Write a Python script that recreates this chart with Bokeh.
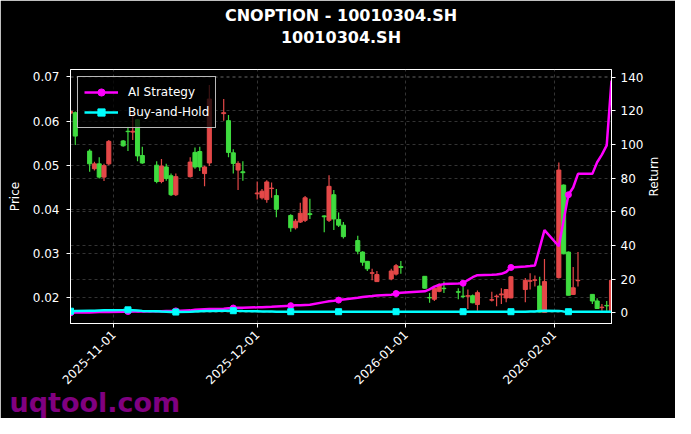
import math
import numpy as np
import pandas as pd
from bokeh.plotting import figure
from bokeh.models import (Range1d, LinearAxis, FixedTicker, DatetimeTickFormatter,
                          NumeralTickFormatter, Grid, Title, Legend, LegendItem,
                          ColumnDataSource)
from bokeh.embed import file_html
from bokeh.resources import INLINE

# ---------------- data ----------------
dates = [
    "2025-10-23", "2025-10-24", "2025-10-27", "2025-10-28", "2025-10-29", "2025-10-30", "2025-10-31",
    "2025-11-03", "2025-11-04", "2025-11-05", "2025-11-06", "2025-11-07",
    "2025-11-10", "2025-11-11", "2025-11-12", "2025-11-13", "2025-11-14",
    "2025-11-17", "2025-11-18", "2025-11-19", "2025-11-20", "2025-11-21",
    "2025-11-24", "2025-11-25", "2025-11-26", "2025-11-27", "2025-11-28",
    "2025-12-01", "2025-12-02", "2025-12-03", "2025-12-04", "2025-12-05",
    "2025-12-08", "2025-12-09", "2025-12-10", "2025-12-11", "2025-12-12",
    "2025-12-15", "2025-12-16", "2025-12-17", "2025-12-18", "2025-12-19",
    "2025-12-22", "2025-12-23", "2025-12-24", "2025-12-25", "2025-12-26",
    "2025-12-29", "2025-12-30", "2025-12-31",
    "2026-01-05", "2026-01-06", "2026-01-07", "2026-01-08", "2026-01-09",
    "2026-01-12", "2026-01-13", "2026-01-14", "2026-01-15", "2026-01-16",
    "2026-01-19", "2026-01-20", "2026-01-21", "2026-01-22", "2026-01-23",
    "2026-01-26", "2026-01-27", "2026-01-28", "2026-01-29", "2026-01-30",
    "2026-02-02", "2026-02-03", "2026-02-04", "2026-02-05", "2026-02-06",
    "2026-02-09", "2026-02-10", "2026-02-11", "2026-02-12", "2026-02-13",
]
open_ = [0.0622, 0.0566, 0.0503, 0.0503, 0.0473, 0.0499, 0.0554,
         0.0544, 0.0576, 0.0577, 0.0521, 0.0505,
         0.0463, 0.0498, 0.0470, 0.0433, 0.0474,
         0.0507, 0.0496, 0.0496, 0.0496, 0.0650,
         0.0619, 0.0529, 0.0504, 0.0504, 0.0483,
         0.0437, 0.0441, 0.0462, 0.0448, 0.0400,
         0.0358, 0.0373, 0.0391, 0.0426, 0.0388,
         0.0383, 0.0452, 0.0378, 0.0364, 0.0338,
         0.0305, 0.0280, 0.0265, 0.0256, 0.0252,
         0.0260, 0.0272, 0.0268,
         0.0221, 0.0199, 0.0221, 0.0229, 0.0220,
         0.0212, 0.0202, 0.0204, 0.0188, 0.0211,
         0.0195, 0.0203, 0.0208, 0.0218, 0.0247,
         0.0239, 0.0238, 0.0240, 0.0167, 0.0236,
         0.0489, 0.0299, 0.0205, 0.0222, 0.0239,
         0.0192, 0.0175, 0.0178, 0.0181, 0.0239]
high = [0.0625, 0.0622, 0.0536, 0.0508, 0.0518, 0.0503, 0.0557,
        0.0557, 0.0587, 0.0619, 0.0604, 0.0542,
        0.0509, 0.0514, 0.0503, 0.0481, 0.0481,
        0.0518, 0.0540, 0.0542, 0.0499, 0.0682,
        0.0650, 0.0614, 0.0536, 0.0509, 0.0509,
        0.0463, 0.0446, 0.0466, 0.0461, 0.0446,
        0.0389, 0.0378, 0.0415, 0.0430, 0.0424,
        0.0386, 0.0477, 0.0444, 0.0393, 0.0371,
        0.0340, 0.0305, 0.0283, 0.0265, 0.0260,
        0.0265, 0.0276, 0.0283,
        0.0249, 0.0210, 0.0225, 0.0232, 0.0236,
        0.0221, 0.0226, 0.0218, 0.0207, 0.0216,
        0.0213, 0.0207, 0.0221, 0.0218, 0.0248,
        0.0244, 0.0255, 0.0250, 0.0247, 0.0287,
        0.0506, 0.0456, 0.0304, 0.0269, 0.0303,
        0.0207, 0.0198, 0.0185, 0.0192, 0.0239]
low = [0.0612, 0.0546, 0.0485, 0.0488, 0.0470, 0.0464, 0.0500,
       0.0542, 0.0532, 0.0557, 0.0509, 0.0503,
       0.0459, 0.0459, 0.0465, 0.0430, 0.0430,
       0.0472, 0.0492, 0.0487, 0.0452, 0.0498,
       0.0601, 0.0518, 0.0481, 0.0444, 0.0465,
       0.0422, 0.0422, 0.0415, 0.0426, 0.0382,
       0.0349, 0.0354, 0.0369, 0.0371, 0.0378,
       0.0348, 0.0371, 0.0353, 0.0360, 0.0334,
       0.0298, 0.0272, 0.0260, 0.0239, 0.0236,
       0.0239, 0.0250, 0.0254,
       0.0220, 0.0188, 0.0192, 0.0212, 0.0210,
       0.0196, 0.0198, 0.0174, 0.0187, 0.0170,
       0.0191, 0.0180, 0.0185, 0.0189, 0.0198,
       0.0189, 0.0218, 0.0225, 0.0166, 0.0165,
       0.0243, 0.0298, 0.0205, 0.0206, 0.0225,
       0.0185, 0.0174, 0.0170, 0.0170, 0.0170]
close = [0.0618, 0.0619, 0.0532, 0.0492, 0.0503, 0.0473, 0.0503,
         0.0555, 0.0577, 0.0575, 0.0603, 0.0522,
         0.0500, 0.0463, 0.0496, 0.0476, 0.0433,
         0.0474, 0.0529, 0.0531, 0.0481, 0.0505,
         0.0617, 0.0601, 0.0528, 0.0489, 0.0485,
         0.0435, 0.0426, 0.0422, 0.0447, 0.0431,
         0.0386, 0.0358, 0.0371, 0.0375, 0.0390,
         0.0385, 0.0375, 0.0433, 0.0377, 0.0364,
         0.0329, 0.0303, 0.0282, 0.0255, 0.0236,
         0.0242, 0.0253, 0.0270,
         0.0248, 0.0200, 0.0196, 0.0214, 0.0221,
         0.0213, 0.0203, 0.0203, 0.0204, 0.0184,
         0.0194, 0.0202, 0.0206, 0.0199, 0.0199,
         0.0218, 0.0237, 0.0239, 0.0226, 0.0166,
         0.0245, 0.0455, 0.0303, 0.0207, 0.0238,
         0.0207, 0.0192, 0.0177, 0.0182, 0.0170]
ai_return = [0.0, 0.2, 0.3, 0.4, 0.5, 0.5, 0.6,
             0.7, 0.8, 0.8, 0.9, 0.9,
             1.0, 1.0, 1.1, 1.1, 1.2,
             1.5, 1.8, 2.0, 2.2, 2.3,
             2.5, 2.7, 2.9, 3.0, 3.1,
             3.3, 3.4, 3.5, 3.6, 3.8,
             4.3, 4.5, 4.5, 4.7, 4.9,
             6.4, 6.9, 7.2, 7.6, 8.0,
             9.0, 9.4, 9.8, 10.0, 10.3,
             10.8, 11.5, 12.0,
             12.8, 14.0, 15.6, 16.6, 17.1,
             17.4, 17.6, 19.5, 21.2, 22.4,
             22.6, 22.8, 23.2, 24.3, 27.0,
             27.5, 27.8, 28.2, 38.6, 49.2,
             39.6, 55.0, 70.2, 74.5, 82.6,
             82.6, 89.5, 94.0, 99.5, 138.0]
bh_return = [1.0, 1.2, 1.3, 1.3, 1.4, 1.5, 1.6,
             1.7, 1.8, 1.6, 1.4, 1.2,
             1.0, 0.8, 0.7, 0.6, 0.5,
             0.7, 0.9, 1.0, 1.1, 1.2,
             1.3, 1.3, 1.3, 1.2, 1.1,
             1.0, 0.9, 0.8, 0.8, 0.7,
             0.7, 0.7, 0.7, 0.7, 0.7,
             0.7, 0.7, 0.7, 0.7, 0.7,
             0.7, 0.7, 0.7, 0.7, 0.7,
             0.7, 0.7, 0.7,
             0.7, 0.7, 0.7, 0.7, 0.7,
             0.7, 0.7, 0.7, 0.7, 0.7,
             0.7, 0.7, 0.7, 0.7, 0.7,
             0.7, 0.8, 0.9, 1.1, 1.3,
             1.2, 0.9, 0.7, 0.7, 0.7,
             0.7, 0.7, 0.7, 0.7, 0.7]
price_ticks = [0.02, 0.03, 0.04, 0.05, 0.06, 0.07]
return_ticks = [0, 20, 40, 60, 80, 100, 120, 140]
date_tick_labels = ["2025-11-01", "2025-12-01", "2026-01-01", "2026-02-01"]
title_lines = ["CNOPTION - 10010304.SH", "10010304.SH"]
series_names = ["AI Strategy", "Buy-and-Hold"]
watermark = "uqtool.com"

# ---------------- build ----------------
FONT = "DejaVu Sans"
GREEN = "#3fdc3f"
RED = "#e44848"
MAGENTA = "#ff00ff"
CYAN = "#00ffff"
DAY = 86400000

dt = pd.to_datetime(dates)
o = np.array(open_); c = np.array(close)
colors = [GREEN if cc >= oo else RED for oo, cc in zip(o, c)]
src = ColumnDataSource(dict(x=dt, top=np.maximum(o, c), bottom=np.minimum(o, c),
                            high=high, low=low, color=colors))

p = figure(width=675, height=418, x_axis_type="datetime",
           output_backend="svg", toolbar_location=None,
           x_range=Range1d(dt[0], dt[-1]),
           y_range=Range1d(0.0141, 0.0717),
           min_border_left=70, min_border_right=64,
           min_border_top=69, min_border_bottom=95,
           background_fill_color="black", border_fill_color="black",
           outline_line_color="white", outline_line_width=1)
p.extra_y_ranges = {"ret": Range1d(-6.3, 144.6)}

# candles
p.segment(x0="x", y0="low", x1="x", y1="high", line_color="color", line_width=1.2, source=src)
p.vbar(x="x", width=0.85 * DAY, top="top", bottom="bottom", fill_color="color",
       line_color="color", line_width=1, source=src)

# return lines
idx = list(range(0, len(dates), 8))
ai_line = p.line(dt, ai_return, line_color=MAGENTA, line_width=2.5, y_range_name="ret")
ai_pts = p.scatter(dt[idx], [ai_return[i] for i in idx], marker="circle", size=6,
                   fill_color=MAGENTA, line_color=MAGENTA, y_range_name="ret")
bh_line = p.line(dt, bh_return, line_color=CYAN, line_width=2.5, y_range_name="ret")
bh_pts = p.scatter(dt[idx], [bh_return[i] for i in idx], marker="square", size=6,
                   fill_color=CYAN, line_color=CYAN, y_range_name="ret")

# axes
def style_axis(ax):
    ax.axis_line_color = "white"
    ax.major_tick_line_color = "white"
    ax.minor_tick_line_color = None
    ax.major_tick_out = 4
    ax.major_tick_in = 0
    ax.major_label_standoff = 7
    ax.major_label_text_color = "white"
    ax.major_label_text_font = FONT
    ax.major_label_text_font_size = "12px"
    ax.axis_label_text_color = "white"
    ax.axis_label_text_font = FONT
    ax.axis_label_text_font_size = "12px"
    ax.axis_label_text_font_style = "normal"
    ax.axis_label_standoff = 8

xaxis = p.xaxis[0]
xaxis.ticker = FixedTicker(ticks=[pd.Timestamp(s).value // 10**6 for s in date_tick_labels])
xaxis.formatter = DatetimeTickFormatter(days="%Y-%m-%d", months="%Y-%m-%d", years="%Y-%m-%d",
                                        hours="%Y-%m-%d", minutes="%Y-%m-%d")
xaxis.major_label_orientation = math.pi / 4
style_axis(xaxis)
xaxis.major_label_standoff = 5

yaxis = p.yaxis[0]
yaxis.ticker = FixedTicker(ticks=price_ticks)
yaxis.formatter = NumeralTickFormatter(format="0.00")
yaxis.axis_label = "Price"
style_axis(yaxis)

raxis = LinearAxis(y_range_name="ret", axis_label="Return", ticker=FixedTicker(ticks=return_ticks))
style_axis(raxis)
raxis.major_label_standoff = 5
try:
    raxis.axis_label_orientation = math.pi / 2
except Exception:
    pass
p.add_layout(raxis, "right")

# grids
for g in (p.xgrid[0], p.ygrid[0]):
    g.grid_line_color = "#808080"
    g.grid_line_alpha = 0.5
    g.grid_line_dash = "3 3"
    g.grid_line_width = 0.8
p.xgrid[0].ticker = xaxis.ticker
rgrid = Grid(dimension=1, ticker=FixedTicker(ticks=return_ticks), y_range_name="ret",
             grid_line_color="#808080", grid_line_alpha=0.5, grid_line_dash="3 3",
             grid_line_width=0.8)
p.add_layout(rgrid)

# legend
legend = Legend(items=[LegendItem(label=series_names[0], renderers=[ai_line, ai_pts]),
                       LegendItem(label=series_names[1], renderers=[bh_line, bh_pts])],
                location="top_left", margin=7, padding=6, spacing=2,
                glyph_width=34, glyph_height=18, label_height=18, label_standoff=10,
                label_text_color="white", label_text_font=FONT, label_text_font_size="12px",
                background_fill_color="black", background_fill_alpha=0.75,
                border_line_color="#cccccc", border_line_alpha=0.9, border_line_width=1)
p.add_layout(legend)

# titles (line 2 nearest the frame, then line 1) and watermark
p.add_layout(Title(text=title_lines[1], align="center", text_color="white", text_font=FONT,
                   text_font_size="16px", text_font_style="bold", standoff=45), "above")
p.add_layout(Title(text=title_lines[0], align="center", text_color="white", text_font=FONT,
                   text_font_size="16px", text_font_style="bold", standoff=-43), "above")
p.add_layout(Title(text=watermark, align="left", offset=-61, text_color="#800080",
                   text_font=FONT, text_font_size="27px", text_font_style="bold",
                   standoff=-14), "below")

open("out.html", "w").write(file_html(p, INLINE))
